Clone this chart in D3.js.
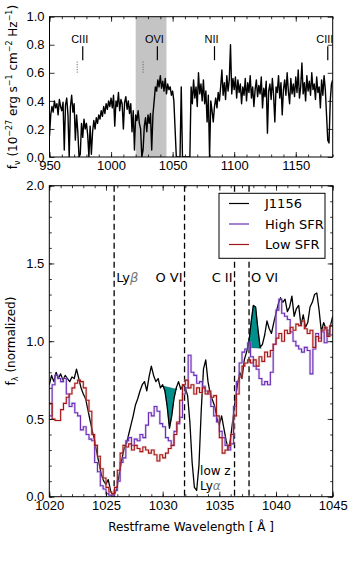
<!DOCTYPE html>
<html><head><meta charset="utf-8">
<script src="https://cdn.jsdelivr.net/npm/d3@7"></script>
<style>
html,body{margin:0;padding:0;background:#fff;}
svg{display:block;}
text{font-family:"Liberation Sans",Arial,sans-serif;fill:#000;}
</style></head><body>
<script>
// ---------- DATA ----------
// Top panel: observed spectrum, 950..1180 A, 1 A step
const topStart = 950, topStep = 1;
const topFlux = [
0.15,0.30,0.36,0.32,0.40,0.35,0.38,0.30,0.41,0.36,
0.33,0.39,0.05,0.37,0.42,0.30,0.00,0.36,0.44,0.32,
0.38,0.12,0.30,0.18,0.00,0.02,0.24,0.14,0.27,0.20,
0.24,0.16,0.00,0.22,0.02,0.18,0.26,0.20,0.28,0.24,
0.30,0.27,0.33,0.29,0.36,0.31,0.38,0.34,0.40,0.36,
0.42,0.35,0.44,0.22,0.40,0.36,0.46,0.33,0.41,0.38,
0.20,0.39,0.43,0.34,0.40,0.31,0.38,0.18,0.33,0.05,
0.30,0.26,0.33,0.24,0.20,0.00,0.05,0.22,0.28,0.18,
0.30,0.24,0.31,0.05,0.30,0.40,0.50,0.47,0.55,0.50,
0.58,0.49,0.54,0.47,0.56,0.45,0.52,0.48,0.50,0.44,
0.47,0.40,0.20,0.00,0.00,0.00,0.00,0.50,0.00,0.00,
0.00,0.00,0.00,0.00,0.00,0.50,0.38,0.55,0.42,0.50,
0.36,0.60,0.45,0.52,0.40,0.55,0.38,0.47,0.25,0.44,
0.00,0.40,0.33,0.25,0.36,0.42,0.35,0.46,0.40,0.50,
0.62,0.44,0.53,0.41,0.58,0.47,0.55,0.80,0.45,0.56,
0.48,0.57,0.42,0.55,0.46,0.52,0.38,0.50,0.44,0.56,
0.40,0.53,0.46,0.58,0.42,0.50,0.36,0.48,0.55,0.43,
0.51,0.45,0.57,0.35,0.49,0.43,0.54,0.17,0.47,0.52,
0.41,0.56,0.44,0.25,0.50,0.46,0.58,0.42,0.53,0.30,
0.48,0.55,0.44,0.60,0.47,0.38,0.56,0.45,0.52,0.43,
0.57,0.46,0.62,0.42,0.50,0.67,0.45,0.53,0.40,0.58,
0.47,0.54,0.44,0.60,0.48,0.52,0.41,0.57,0.46,0.50,
0.35,0.55,0.44,0.58,0.48,0.30,0.12,0.10,0.40,0.52,
0.55];
const topXTicks = [950,1000,1050,1100,1150];
const topYTicks = [0.0,0.2,0.4,0.6,0.8,1.0];
const topBand = [1020,1045];
const topLineNames = ["CIII","OVI","NII","CIII"];
const topLineWaves = [977,1037.6,1084,1176];
const topDotWaves = [972.5,1026];

// Bottom panel: normalized spectra
const j1156Start = 1020, j1156Step = 0.2;
const j1156 = [
0.72,0.78,0.74,0.80,0.76,0.79,0.75,0.78,0.76,0.74,
0.77,0.76,0.82,0.76,0.70,0.66,0.63,0.56,0.49,0.42,
0.36,0.28,0.21,0.14,0.10,0.08,0.11,0.04,0.01,0.02,
0.07,0.16,0.24,0.31,0.34,0.40,0.46,0.52,0.59,0.63,
0.68,0.72,0.74,0.68,0.77,0.84,0.78,0.74,0.76,0.70,
0.72,0.68,0.58,0.44,0.52,0.63,0.70,0.74,0.69,0.72,
0.70,0.65,0.48,0.22,0.06,0.04,0.20,0.55,0.82,0.88,
0.74,0.66,0.62,0.58,0.50,0.46,0.52,0.44,0.36,0.30,
0.38,0.50,0.62,0.72,0.80,0.76,0.88,0.93,0.99,1.12,
1.23,1.22,1.08,0.96,0.98,1.04,1.13,1.08,1.05,1.12,
1.18,1.24,1.28,1.25,1.27,1.19,1.22,1.29,1.16,1.21,
1.23,1.10,1.17,1.09,1.12,1.22,1.25,1.30,1.31,1.20,
1.06,1.12,1.08,1.03,1.10,1.16];
const binStart = 1020, binStep = 0.25;
const highSFR = [
0.52,0.72,0.78,0.76, 0.74,0.76,0.66,0.58, 0.60,0.54,0.52,0.43, 0.45,0.40,0.37,0.36,
0.22,0.16,0.07,0.05, 0.02,0.01,0.00,0.04, 0.10,0.22,0.25,0.36, 0.38,0.33,0.37,0.36,
0.40,0.38,0.46,0.54, 0.52,0.58,0.55,0.47, 0.45,0.38,0.36,0.33, 0.42,0.47,0.51,0.66,
0.70,0.91,0.80,0.78, 0.73,0.74,0.71,0.68, 0.66,0.58,0.52,0.48, 0.42,0.38,0.33,0.30,
0.34,0.58,0.74,0.86, 0.93,0.95,0.99,0.90, 0.84,0.82,0.76,0.72, 0.74,0.72,0.80,0.98,
1.20,1.27,1.18,1.16, 1.14,1.06,1.00,0.97, 0.95,0.93,0.96,0.94, 0.79,0.95,1.05,1.02,
1.06,0.99,1.07,1.04];
const lowSFR = [
0.60,0.50,0.49,0.49, 0.56,0.60,0.64,0.66, 0.70,0.73,0.75,0.74, 0.70,0.62,0.55,0.40,
0.33,0.26,0.18,0.12, 0.06,0.03,0.02,0.06, 0.17,0.28,0.33,0.32, 0.34,0.30,0.33,0.31,
0.29,0.32,0.30,0.28, 0.30,0.27,0.23,0.27, 0.25,0.28,0.31,0.33, 0.40,0.48,0.62,0.72,
0.75,0.70,0.72,0.66, 0.70,0.67,0.70,0.66, 0.68,0.64,0.65,0.52, 0.38,0.28,0.30,0.33,
0.40,0.52,0.66,0.77, 0.84,0.86,0.88,0.86, 0.88,0.84,0.90,0.87, 0.93,0.90,0.94,0.98,
1.02,1.05,1.00,1.07, 1.05,1.09,1.07,1.11, 1.10,1.13,1.08,1.05, 1.07,0.96,1.03,1.00,
1.07,1.09,1.03,1.10];
const botXTicks = [1020,1025,1030,1035,1040,1045];
const botYTicks = [0.0,0.5,1.0,1.5,2.0];
const lineWaves = [1025.72,1031.93,1036.34,1037.62];
const seriesNames = ["J1156","High SFR","Low SFR"];
const seriesColors = ["#000000","#6a2db8","#a51515"];
// teal absorption markers: [startWave, startFlux, endWave, endFlux]
const teal1 = [1030.1,0.71,1031.25,0.69];
const teal2 = [1037.55,0.96,1038.7,0.955];

// ---------- LAYOUT ----------
const W = 354, H = 565;
const svg = d3.select("body").append("svg").attr("width",W).attr("height",H);

const x1 = d3.scaleLinear().domain([950,1180]).range([49.5,332.7]);
const y1 = d3.scaleLinear().domain([0,1]).range([157,16.7]);
const x2 = d3.scaleLinear().domain([1020,1045]).range([49.3,332.7]);
const y2 = d3.scaleLinear().domain([0,2]).range([496.7,185.7]);

function frame(g, x, y, xt, xminor, yt, yminor, xfmt, yfmt){
  const [xa,xb] = x.range(), [ya,yb] = y.range(); // ya bottom, yb top
  const fs = "13px";
  const bot = g.append("g").attr("transform",`translate(0,${ya})`)
    .call(d3.axisBottom(x).tickValues(xt).tickSize(-5).tickPadding(4).tickFormat(xfmt));
  const botm = g.append("g").attr("transform",`translate(0,${ya})`)
    .call(d3.axisBottom(x).tickValues(xminor).tickSize(-2.5).tickFormat(""));
  const top = g.append("g").attr("transform",`translate(0,${yb})`)
    .call(d3.axisTop(x).tickValues(xt).tickSize(-5).tickFormat(""));
  const topm = g.append("g").attr("transform",`translate(0,${yb})`)
    .call(d3.axisTop(x).tickValues(xminor).tickSize(-2.5).tickFormat(""));
  const lef = g.append("g").attr("transform",`translate(${xa},0)`)
    .call(d3.axisLeft(y).tickValues(yt).tickSize(-5).tickPadding(5).tickFormat(yfmt));
  const lefm = g.append("g").attr("transform",`translate(${xa},0)`)
    .call(d3.axisLeft(y).tickValues(yminor).tickSize(-2.5).tickFormat(""));
  const rig = g.append("g").attr("transform",`translate(${xb},0)`)
    .call(d3.axisRight(y).tickValues(yt).tickSize(-5).tickFormat(""));
  const rigm = g.append("g").attr("transform",`translate(${xb},0)`)
    .call(d3.axisRight(y).tickValues(yminor).tickSize(-2.5).tickFormat(""));
  [bot,botm,top,topm,lef,lefm,rig,rigm].forEach(a=>{
    a.select(".domain").remove();
    a.selectAll("line").attr("stroke","#000").attr("stroke-width",0.8);
    a.selectAll("text").style("font-size",fs).style("font-family","Liberation Sans, Arial, sans-serif").attr("fill","#000");
  });
  g.append("rect").attr("x",xa).attr("y",yb).attr("width",xb-xa).attr("height",ya-yb)
    .attr("fill","none").attr("stroke","#000").attr("stroke-width",1);
}

// ---------- TOP PANEL ----------
const gt = svg.append("g");
svg.append("clipPath").attr("id","c1").append("rect")
  .attr("x",49.5).attr("y",16.7).attr("width",332.7-49.5).attr("height",157-16.7);
svg.append("clipPath").attr("id","c2").append("rect")
  .attr("x",49.3).attr("y",185.7).attr("width",332.7-49.3).attr("height",496.7-185.7);

gt.append("rect").attr("x",x1(topBand[0])).attr("y",y1(1)).attr("width",x1(topBand[1])-x1(topBand[0]))
  .attr("height",y1(0)-y1(1)).attr("fill","#c4c4c4");

const topData = topFlux.map((v,i)=>[topStart+i*topStep,v]);
gt.append("path").datum(topData).attr("clip-path","url(#c1)")
  .attr("d",d3.line().x(d=>x1(d[0])).y(d=>y1(d[1])))
  .attr("fill","none").attr("stroke","#000").attr("stroke-width",1.4).attr("stroke-linejoin","round");

topLineWaves.forEach((w,i)=>{
  gt.append("line").attr("x1",x1(w)).attr("x2",x1(w)).attr("y1",y1(0.79)).attr("y2",y1(0.69))
    .attr("stroke","#000").attr("stroke-width",1.2);
  gt.append("text").attr("x",x1(w)-3).attr("y",y1(0.815)).attr("text-anchor","middle")
    .style("font-size","11px").text(topLineNames[i]);
});
topDotWaves.forEach(w=>{
  gt.append("line").attr("x1",x1(w)).attr("x2",x1(w)).attr("y1",y1(0.68)).attr("y2",y1(0.6))
    .attr("stroke","#555").attr("stroke-width",1).attr("stroke-dasharray","1,1.5");
});

frame(gt,x1,y1,topXTicks,d3.range(950,1181,10),topYTicks,[],d3.format("d"),d3.format(".1f"));

// top y label
const tl = gt.append("text").attr("transform","translate(17,87) rotate(-90)").attr("text-anchor","middle")
  .style("font-size","12px").style("font-family","DejaVu Sans, sans-serif");
tl.append("tspan").text("f");
tl.append("tspan").attr("dy",3).style("font-size","8px").text("ν");
tl.append("tspan").attr("dy",-3).text(" (10");
tl.append("tspan").attr("dy",-5).style("font-size","8px").text("−27");
tl.append("tspan").attr("dy",5).text(" erg s");
tl.append("tspan").attr("dy",-5).style("font-size","8px").text("−1");
tl.append("tspan").attr("dy",5).text(" cm");
tl.append("tspan").attr("dy",-5).style("font-size","8px").text("−2");
tl.append("tspan").attr("dy",5).text(" Hz");
tl.append("tspan").attr("dy",-5).style("font-size","8px").text("−1");
tl.append("tspan").attr("dy",5).text(")");

// ---------- BOTTOM PANEL ----------
const gb = svg.append("g");

lineWaves.forEach(w=>{
  gb.append("line").attr("x1",x2(w)).attr("x2",x2(w)).attr("y1",y2(2)).attr("y2",y2(0))
    .attr("stroke","#000").attr("stroke-width",1.3).attr("stroke-dasharray","6,3.5");
});

const blackData = j1156.map((v,i)=>[+(j1156Start+i*j1156Step).toFixed(2),v]);
function stepData(arr){
  const d = arr.map((v,i)=>[binStart+i*binStep,v]);
  d.push([binStart+arr.length*binStep, arr[arr.length-1]]);
  return d;
}
const lineB = d3.line().x(d=>x2(d[0])).y(d=>y2(d[1]));
const lineS = d3.line().x(d=>x2(d[0])).y(d=>y2(d[1])).curve(d3.curveStepAfter);

// teal fills
function tealPoly(t){
  const pts = [[t[0],t[1]],[t[2],t[3]]];
  const inner = blackData.filter(d=>d[0]>t[0]-1e-6 && d[0]<=t[2]+1e-6).reverse();
  return pts.concat(inner);
}
[teal1,teal2].forEach(t=>{
  gb.append("path").datum(tealPoly(t))
    .attr("d",d=>lineB(d)+"Z")
    .attr("fill","#008f8a").attr("stroke","#005a5a").attr("stroke-width",0.6);
});

const gClip = gb.append("g").attr("clip-path","url(#c2)");
gClip.append("path").datum(blackData).attr("d",lineB).attr("fill","none")
  .attr("stroke","#000").attr("stroke-width",1.3).attr("stroke-linejoin","round");
[[highSFR,seriesColors[1],"#b9a0dc"],[lowSFR,seriesColors[2],"#dca0a0"]].forEach(([arr,c,h])=>{
  gClip.append("path").datum(stepData(arr)).attr("d",lineS).attr("fill","none")
    .attr("stroke",h).attr("stroke-width",2.6).attr("opacity",0.4);
  gClip.append("path").datum(stepData(arr)).attr("d",lineS).attr("fill","none")
    .attr("stroke",c).attr("stroke-width",1.1);
});

frame(gb,x2,y2,botXTicks,d3.range(1020,1046,1),botYTicks,d3.range(0,2.01,0.1).map(v=>+v.toFixed(1)),d3.format("d"),d3.format(".1f"));

// line labels
const lf = "13px";
function mathLabel(x,y,anchor,plain,greek){
  const t = gb.append("text").attr("x",x).attr("y",y).attr("text-anchor",anchor)
    .style("font-size",lf).style("font-family","DejaVu Sans, sans-serif");
  t.append("tspan").text(plain);
  if(greek) t.append("tspan").style("font-style","italic").attr("fill","#777").text(greek);
  return t;
}
mathLabel(x2(lineWaves[0])+2,y2(1.38),"start","Ly","β");
mathLabel(x2(lineWaves[1])-2,y2(1.38),"end","O VI");
mathLabel(x2(lineWaves[2])-2,y2(1.38),"end","C II");
mathLabel(x2(lineWaves[3])+2,y2(1.38),"start","O VI");
mathLabel(x2(1033.3),y2(0.14),"start","low z").style("font-size","12px");
mathLabel(x2(1033.3),y2(0.045),"start","Ly","α").style("font-size","12px");

// legend
const lg = gb.append("g");
lg.append("rect").attr("x",219).attr("y",193.3).attr("width",106).attr("height",65)
  .attr("fill","#fff").attr("stroke","#000").attr("stroke-width",1);
seriesNames.forEach((n,i)=>{
  const yy = 203.5 + i*20.5;
  lg.append("line").attr("x1",229).attr("x2",249).attr("y1",yy).attr("y2",yy)
    .attr("stroke",seriesColors[i]).attr("stroke-width",1.2);
  lg.append("text").attr("x",265).attr("y",yy+4.5).style("font-size","13px")
    .style("font-family","DejaVu Sans, sans-serif").text(n);
});

// axis labels
const yl = gb.append("text").attr("transform","translate(15,341) rotate(-90)").attr("text-anchor","middle")
  .style("font-size","12px").style("font-family","DejaVu Sans, sans-serif");
yl.append("tspan").text("f");
yl.append("tspan").attr("dy",3).style("font-size","8px").text("λ");
yl.append("tspan").attr("dy",-3).text(" (normalized)");

gb.append("text").attr("x",191).attr("y",531).attr("text-anchor","middle")
  .style("font-size","12px").style("font-family","DejaVu Sans, sans-serif")
  .text("Restframe Wavelength [ Å ]");
</script>
</body></html>
